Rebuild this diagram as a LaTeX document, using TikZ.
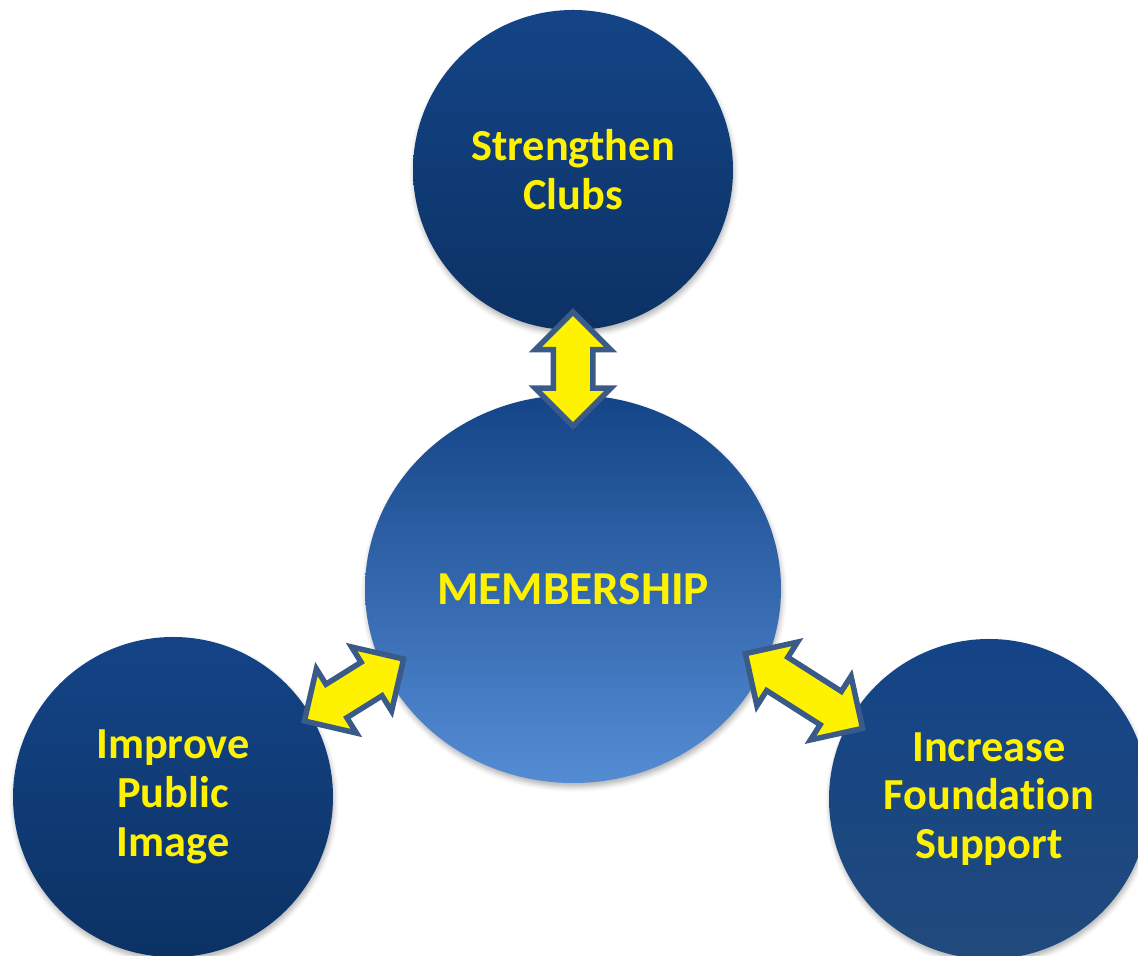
\documentclass[tikz,border=0pt]{standalone}
\usepackage{fontspec}
\setmainfont{Carlito}[RawFeature={-liga;-clig;-calt;-dlig}]
\usetikzlibrary{shapes.geometric,shapes.arrows,shadows.blur}
\definecolor{navytop}{RGB}{20,68,135}
\definecolor{navybot}{RGB}{12,50,100}
\definecolor{greybot}{RGB}{33,74,124}
\definecolor{lightbot}{RGB}{84,140,212}
\definecolor{arrowedge}{RGB}{58,90,135}
\tikzset{
  goal/.style={circle,minimum size=320bp,inner sep=0pt,top color=navytop,bottom color=navybot,
    text=yellow,align=center,font=\fontsize{44.5}{49}\selectfont\bfseries,
    blur shadow={shadow xshift=1bp,shadow yshift=-4bp,shadow blur radius=5bp,shadow opacity=30}},
  hub/.style={ellipse,minimum width=416bp,minimum height=388bp,inner sep=0pt,top color=navytop,bottom color=lightbot,
    text=yellow,font=\fontsize{47.5}{52}\selectfont\bfseries,
    blur shadow={shadow xshift=1bp,shadow yshift=-4bp,shadow blur radius=5bp,shadow opacity=30}},
  dblarrow/.style={double arrow,draw=arrowedge,line width=5.5bp,fill=yellow,inner xsep=0pt,inner ysep=17bp,
    double arrow head extend=18bp}
}
\begin{document}
\begin{tikzpicture}[x=1bp,y=1bp]
\clip (0,0) rectangle (1138,956);
% circles
\node[goal] (clubs) at (573,786) {Strengthen\\Clubs};
\node[hub] (member) at (573,367) {MEMBERSHIP};
\node[goal] (image) at (173,159) {Improve\\Public\\Image};
\node[goal,bottom color=greybot] (found) at (989,157) {Increase\\Foundation\\Support};
% arrows
\node[dblarrow,minimum height=114bp,rotate=90] (arrclubs) at (573,587) {};
\node[dblarrow,minimum height=117bp,rotate=32] (arrimage) at (354,266) {};
\node[dblarrow,minimum height=139bp,rotate=-32.5] (arrfound) at (804,265) {};
\end{tikzpicture}
\end{document}
